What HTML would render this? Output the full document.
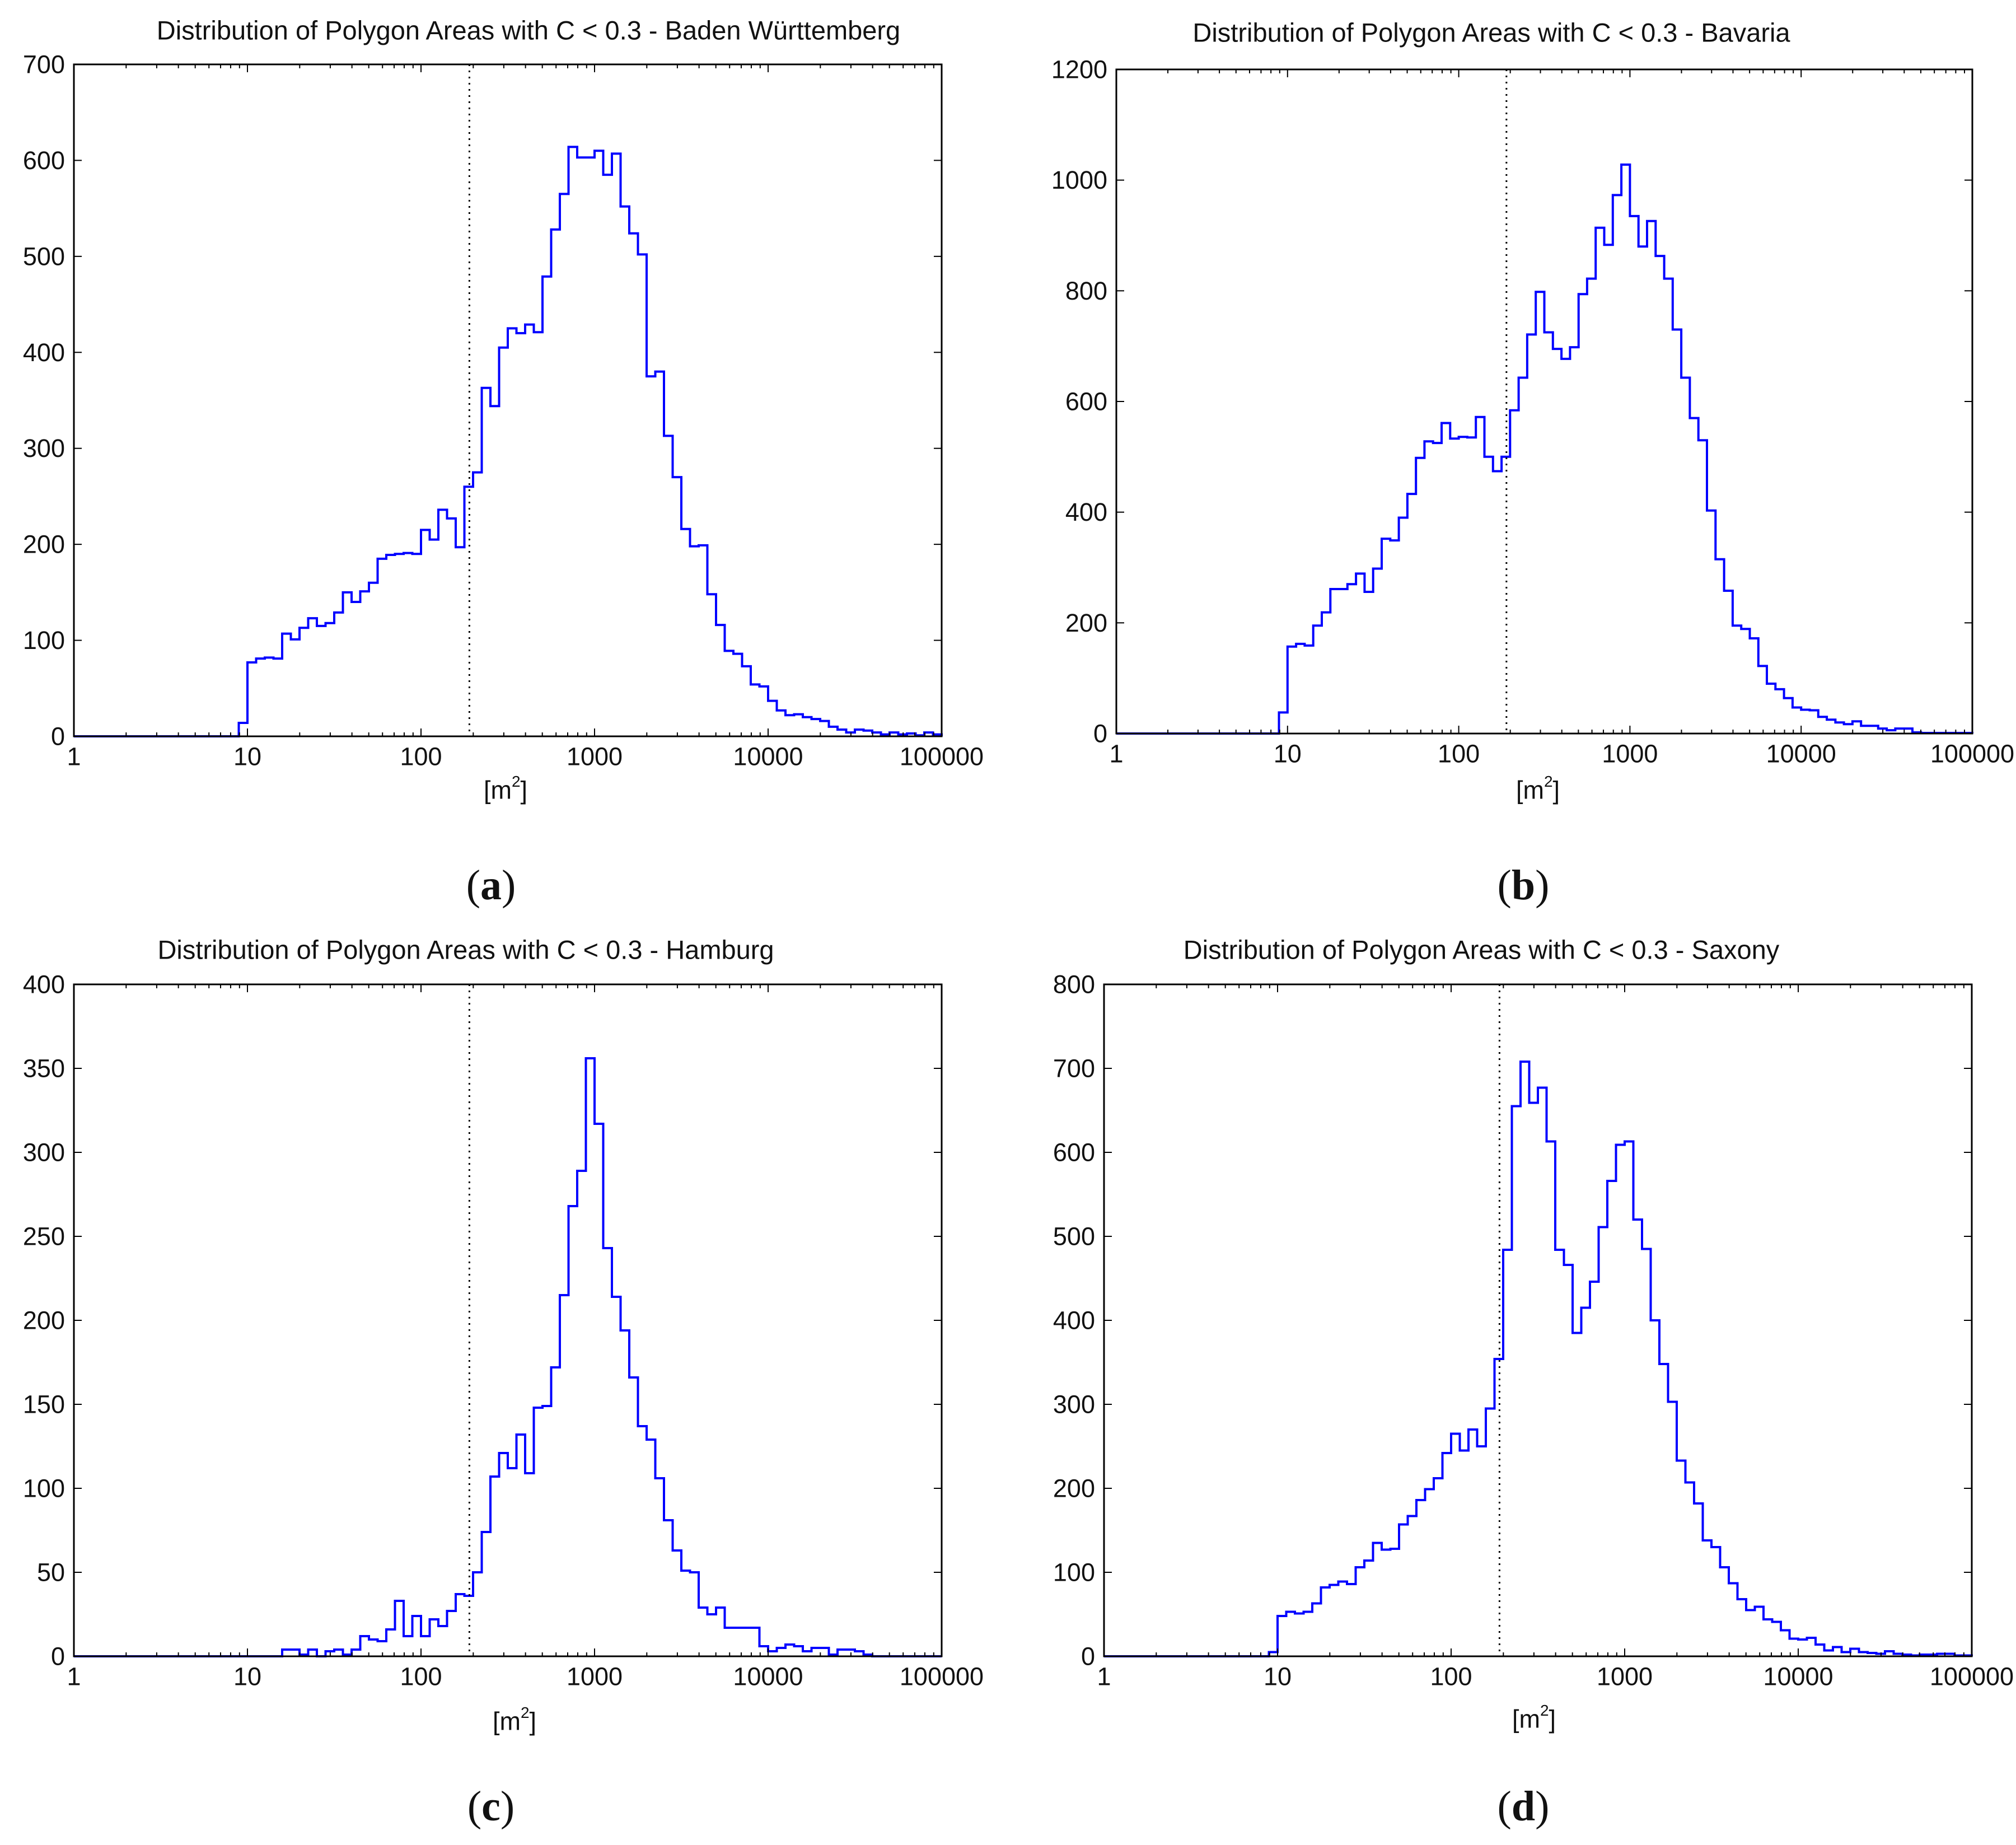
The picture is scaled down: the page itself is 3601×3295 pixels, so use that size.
<!DOCTYPE html>
<html><head><meta charset="utf-8"><style>
html,body{margin:0;padding:0;background:#fff}
svg{display:block}
text{font-family:"Liberation Sans",sans-serif;fill:#111}
</style></head><body>
<svg id="fig" width="3601" height="3295" viewBox="0 0 3601 3295" xmlns="http://www.w3.org/2000/svg"></svg>
<script>
// 100 log-spaced bins from 1 to 100000 (20 per decade)
const binsPerDecade = 20;
const binCount = 100;
const thresholdValue = 190;
const xTickLabels = ["1","10","100","1000","10000","100000"];

const countsBaden = [0,0,0,0,0,0,0,0,0,0,0,0,0,0,0,0,0,0,0,14,
77,81,82,81,107,101,113,123,115,118,129,150,140,151,160,185,189,190,191,190,
215,205,236,227,197,260,275,363,344,405,425,420,429,421,479,528,565,614,603,603,
610,585,607,552,524,502,375,380,313,270,216,198,199,148,116,89,86,73,54,52,
37,27,22,23,20,18,16,10,7,4,7,6,4,2,4,2,3,1,4,2];
const countsBavaria = [0,0,0,0,0,0,0,0,0,0,0,0,0,0,0,0,0,0,0,38,
157,162,159,195,219,261,261,270,289,256,298,352,349,390,433,498,528,525,561,533,
536,535,572,500,474,500,584,643,721,798,725,695,677,698,794,822,914,883,973,1028,
935,880,926,863,822,730,643,570,530,403,315,258,195,189,172,122,90,80,64,47,
43,42,30,25,20,17,22,14,14,9,6,9,9,2,1,1,1,1,1,1];
const countsHamburg = [0,0,0,0,0,0,0,0,0,0,0,0,0,0,0,0,0,0,0,0,
0,0,0,0,4,4,1,4,0,3,4,1,4,12,10,9,16,33,12,24,
12,22,18,27,37,36,50,74,107,121,112,132,109,148,149,172,215,268,289,356,
317,243,214,194,166,137,129,106,81,63,51,50,29,25,29,17,17,17,17,6,
3,5,7,6,3,5,5,1,4,4,3,1,0,0,0,0,0,0,0,0];
const countsSaxony = [0,0,0,0,0,0,0,0,0,0,0,0,0,0,0,0,0,0,0,5,
48,53,51,53,63,82,85,89,86,106,114,135,127,128,157,167,186,199,212,242,
265,245,270,250,295,354,484,655,708,659,677,613,484,466,385,415,446,511,566,609,
613,520,485,400,348,303,233,207,182,138,130,106,87,68,55,59,44,41,31,21,
20,22,14,7,11,5,9,5,4,3,6,3,2,1,2,2,3,3,1,1];

const yTicksBaden = [0,100,200,300,400,500,600,700];
const yTicksBavaria = [0,200,400,600,800,1000,1200];
const yTicksHamburg = [0,50,100,150,200,250,300,350,400];
const yTicksSaxony = [0,100,200,300,400,500,600,700,800];

const titleBaden = "Distribution of Polygon Areas with C < 0.3 - Baden Württemberg";
const titleBavaria = "Distribution of Polygon Areas with C < 0.3 - Bavaria";
const titleHamburg = "Distribution of Polygon Areas with C < 0.3 - Hamburg";
const titleSaxony = "Distribution of Polygon Areas with C < 0.3 - Saxony";

const NS = "http://www.w3.org/2000/svg";
const fig = document.getElementById('fig');
function mk(tag, attrs, parent){
  const e = document.createElementNS(NS, tag);
  for (const k in attrs) e.setAttribute(k, attrs[k]);
  (parent||fig).appendChild(e);
  return e;
}

function drawPanel(id, box, counts, yTicks, title, titleX, titleY, xlabX, xlabY, letter, letX, letY){
  const g = mk('g', {});
  
  
  const L = box.l, R = box.r, T = box.t, B = box.b;
  const yMax = yTicks[yTicks.length-1];
  const xs = v => L + (Math.log10(v) / 5) * (R - L);
  const ys = v => B - (v / yMax) * (B - T);

  const tt = mk('text', {x:titleX, y:titleY, 'font-size':47, 'text-anchor':'middle', 'dominant-baseline':'central'}, g);
  tt.textContent = title;
  
  

  let d = 'M' + xs(1) + ' ' + ys(0);
  for (let k = 0; k < counts.length; k++){
    const x1 = xs(Math.pow(10, (k+1)/binsPerDecade));
    d += ' V' + ys(counts[k]).toFixed(1) + ' H' + x1.toFixed(1);
  }
  d += ' V' + ys(0);
  const p = mk('path', {d:d, fill:'none', stroke:'#0000ff', 'stroke-width':4, 'stroke-linejoin':'miter'}, g);
  
  

  const tl = mk('line', {x1:xs(thresholdValue), x2:xs(thresholdValue), y1:T, y2:B, stroke:'#000', 'stroke-width':3, 'stroke-dasharray':'3 8'}, g);
  
  

  for (let dec = 0; dec <= 5; dec++){
    const v = Math.pow(10, dec);
    const x = xs(v);
    mk('line', {x1:x, x2:x, y1:B, y2:B-14, stroke:'#000', 'stroke-width':2}, g);
    mk('line', {x1:x, x2:x, y1:T, y2:T+14, stroke:'#000', 'stroke-width':2}, g);
    const lab = mk('text', {x:x, y:B+36, 'font-size':45, 'text-anchor':'middle', 'dominant-baseline':'central'}, g);
    lab.textContent = xTickLabels[dec];
    
    
    if (dec < 5){
      for (let m = 2; m <= 9; m++){
        const xm = xs(m * v);
        mk('line', {x1:xm, x2:xm, y1:B, y2:B-7, stroke:'#000', 'stroke-width':2}, g);
        mk('line', {x1:xm, x2:xm, y1:T, y2:T+7, stroke:'#000', 'stroke-width':2}, g);
      }
    }
  }
  yTicks.forEach(v => {
    const y = ys(v);
    mk('line', {x1:L, x2:L+14, y1:y, y2:y, stroke:'#000', 'stroke-width':2}, g);
    mk('line', {x1:R, x2:R-14, y1:y, y2:y, stroke:'#000', 'stroke-width':2}, g);
    const lab = mk('text', {x:L-16, y:y, 'font-size':45, 'text-anchor':'end', 'dominant-baseline':'central'}, g);
    lab.textContent = String(v);
    
    
  });

  const fr = mk('rect', {x:L, y:T, width:R-L, height:B-T, fill:'none', stroke:'#000', 'stroke-width':3}, g);
  
  

  const xl = mk('text', {x:xlabX, y:xlabY, 'font-size':45, 'text-anchor':'middle', 'dominant-baseline':'central'}, g);
  xl.innerHTML = '[m<tspan dy="-16" font-size="28">2</tspan><tspan dy="16">]</tspan>';
  
  

  const lt = mk('text', {x:letX, y:letY, 'font-size':76, 'text-anchor':'middle', 'dominant-baseline':'central', style:'font-family:"Liberation Serif",serif'}, g);
  lt.innerHTML = '(<tspan font-weight="bold">' + letter + '</tspan>)';
  
  
}

drawPanel('baden', {l:132, r:1682, t:115, b:1315}, countsBaden, yTicksBaden, titleBaden, 944, 54, 903, 1411, 'a', 877, 1581);
drawPanel('bavaria', {l:1994, r:3523, t:124, b:1310}, countsBavaria, yTicksBavaria, titleBavaria, 2664, 58, 2747, 1411, 'b', 2721, 1581);
drawPanel('hamburg', {l:132, r:1682, t:1758, b:2958}, countsHamburg, yTicksHamburg, titleHamburg, 832, 1696, 919, 3074, 'c', 877, 3226);
drawPanel('saxony', {l:1972, r:3522, t:1758, b:2958}, countsSaxony, yTicksSaxony, titleSaxony, 2646, 1696, 2740, 3070, 'd', 2721, 3226);
</script>
</body></html>
